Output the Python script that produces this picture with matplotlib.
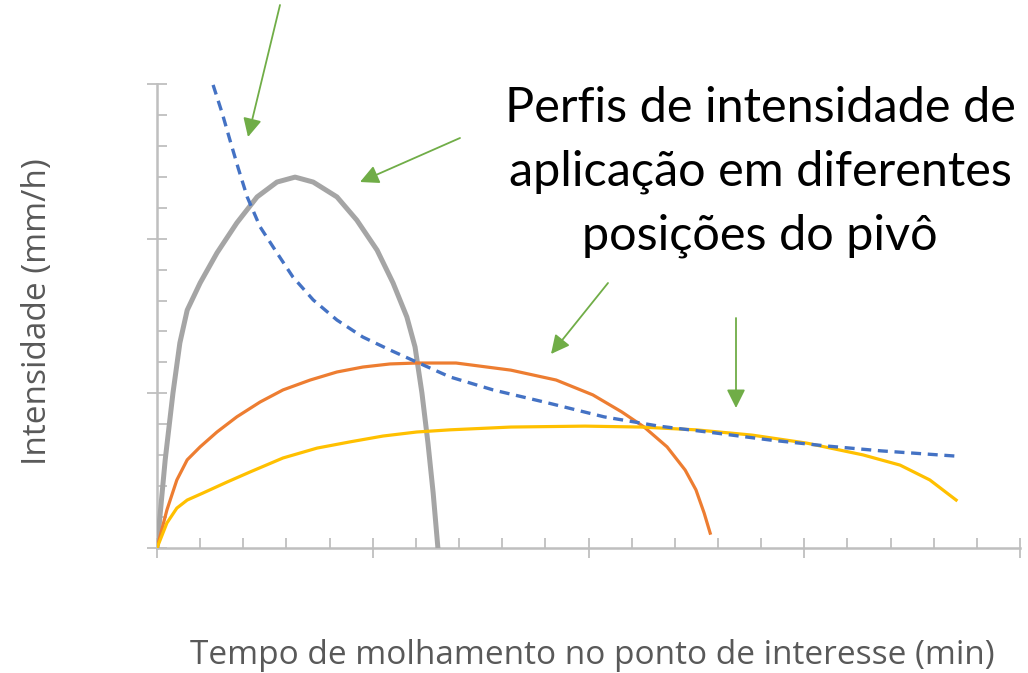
import matplotlib.pyplot as plt
from matplotlib.ticker import MultipleLocator

# curvas de intensidade (tempo em min, intensidade em mm/h)
cinza_x = [0, 0.19, 0.37, 0.53, 0.70, 1.00, 1.39, 1.85, 2.32, 2.78, 3.20, 3.62, 4.17, 4.63,
           5.10, 5.47, 5.79, 5.98, 6.14, 6.28, 6.40, 6.51]
cinza_y = [0, 2.85, 5.01, 6.63, 7.69, 8.57, 9.54, 10.51, 11.35, 11.83, 11.99, 11.83, 11.35, 10.60,
           9.63, 8.57, 7.47, 6.50, 5.01, 3.39, 1.78, 0]

azul_x = [1.30, 1.51, 1.69, 1.88, 2.09, 2.39, 2.78, 3.15, 3.62, 4.17, 4.77, 5.40, 6.02, 6.79,
          7.79, 9.06, 10.36, 11.63, 12.93, 14.21, 15.50, 16.78, 18.52]
azul_y = [14.97, 14.06, 13.19, 12.29, 11.35, 10.38, 9.54, 8.76, 8.02, 7.37, 6.82, 6.40, 6.01, 5.53,
          5.11, 4.69, 4.24, 3.94, 3.72, 3.49, 3.30, 3.14, 2.97]

laranja_x = [0, 0.23, 0.46, 0.70, 1.00, 1.39, 1.85, 2.39, 2.92, 3.55, 4.17, 4.77, 5.40, 6.02,
             6.93, 8.20, 9.25, 10.10, 10.77, 11.29, 11.82, 12.24, 12.49, 12.68, 12.82]
laranja_y = [0, 1.23, 2.20, 2.85, 3.27, 3.75, 4.24, 4.72, 5.11, 5.43, 5.69, 5.85, 5.95, 5.98,
             5.98, 5.75, 5.43, 4.95, 4.40, 3.91, 3.27, 2.52, 1.88, 1.13, 0.48]

amarelo_x = [0, 0.23, 0.46, 0.70, 1.07, 1.62, 2.16, 2.92, 3.71, 4.47, 5.24, 6.02, 6.79, 8.20,
             9.92, 11.22, 12.49, 13.79, 15.06, 16.36, 17.22, 17.91, 18.52]
amarelo_y = [0, 0.81, 1.29, 1.55, 1.78, 2.13, 2.46, 2.91, 3.23, 3.43, 3.62, 3.75, 3.82, 3.91,
             3.94, 3.91, 3.82, 3.65, 3.39, 3.01, 2.68, 2.20, 1.55]

# setas verdes (pixels da figura: origem, ponta)
setas = [((280, 5), (248, 137)),
         ((460, 138), (360, 182)),
         ((608, 283), (551, 354)),
         ((736, 318), (736, 408))]

W, H = 1028, 673
fig = plt.figure(figsize=(W / 100, H / 100), dpi=100, facecolor='white')
ax = fig.add_axes([157 / W, (H - 548) / H, 863 / W, 464 / H])

cor_eixo = '#BFBFBF'
ax.plot(cinza_x, cinza_y, color='#A5A5A5', lw=3.6, solid_joinstyle='round', zorder=3)
ax.plot(laranja_x, laranja_y, color='#ED7D31', lw=2.3, solid_joinstyle='round', zorder=3)
ax.plot(amarelo_x, amarelo_y, color='#FFC000', lw=2.3, solid_joinstyle='round', zorder=3)
ax.plot(azul_x, azul_y, color='#4472C4', lw=2.4, ls=(0, (3, 2)), zorder=4)

ax.set_xlim(0, 20)
ax.set_ylim(0, 15)
ax.xaxis.set_major_locator(MultipleLocator(5))
ax.xaxis.set_minor_locator(MultipleLocator(1))
ax.yaxis.set_major_locator(MultipleLocator(5))
ax.yaxis.set_minor_locator(MultipleLocator(1))
ax.tick_params(which='major', direction='inout', length=15, width=1.3, color=cor_eixo,
               labelleft=False, labelbottom=False)
ax.tick_params(which='minor', direction='in', length=7, width=1.3, color=cor_eixo)
for s in ['top', 'right']:
    ax.spines[s].set_visible(False)
for s in ['left', 'bottom']:
    ax.spines[s].set_color(cor_eixo)
    ax.spines[s].set_linewidth(1.8)

fig.text(38 / W, 1 - 312 / H, 'Intensidade (mm/h)', rotation=90, ha='center', va='center',
         fontsize=24, color='#595959', family='Open Sans')
fig.text(592 / W, 1 - 655 / H, 'Tempo de molhamento no ponto de interesse (min)',
         ha='center', va='center', fontsize=24, color='#595959', family='Open Sans')

fig.text(760 / W, 1 - 172 / H,
         'Perfis de intensidade de\naplicação em diferentes\nposições do pivô',
         ha='center', va='center', fontsize=35, color='black', family='Lato', linespacing=1.55)

for (x0, y0), (x1, y1) in setas:
    ax.annotate('', xy=(x1, H - y1), xycoords='figure pixels',
                xytext=(x0, H - y0), textcoords='figure pixels',
                arrowprops=dict(arrowstyle='-|>', color='#70AD47', lw=1.3,
                                mutation_scale=28, shrinkA=0, shrinkB=0))

fig.savefig('out.png', dpi=100, facecolor='white')
